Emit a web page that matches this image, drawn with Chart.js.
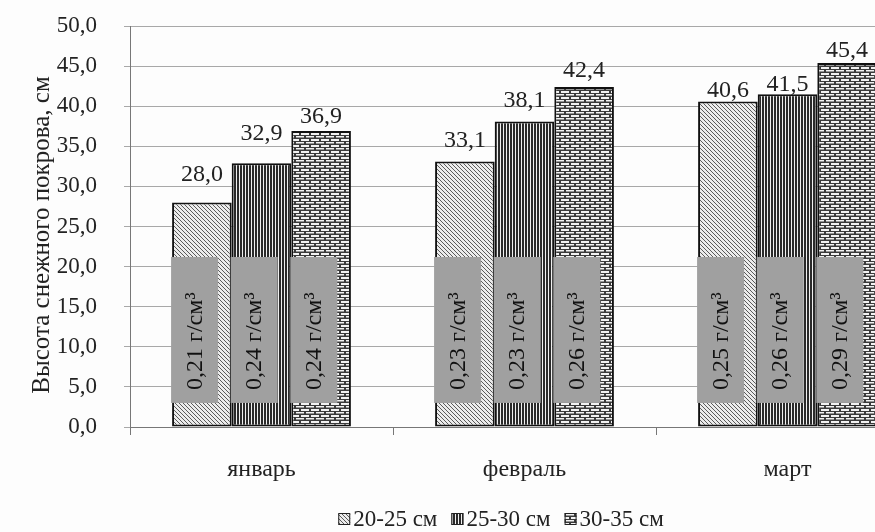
<!DOCTYPE html>
<html>
<head>
<meta charset="utf-8">
<script src="https://cdn.jsdelivr.net/npm/chart.js@4.4.1/dist/chart.umd.min.js"></script>
<style>
  html, body { margin: 0; padding: 0; background: #fdfdfd; overflow: hidden; }
  #wrap { width: 875px; height: 532px; overflow: hidden; }
  canvas { display: block; }
</style>
</head>
<body>
<div id="wrap"><canvas id="snowChart" width="1000" height="532"></canvas></div>
<script>
const months = ["январь", "февраль", "март"];
const seriesNames = ["20-25 см", "25-30 см", "30-35 см"];
const height20 = [28.0, 33.1, 40.6];
const height25 = [32.9, 38.1, 41.5];
const height30 = [36.9, 42.4, 45.4];
const density20 = [0.21, 0.23, 0.25];
const density25 = [0.24, 0.23, 0.26];
const density30 = [0.24, 0.26, 0.29];
const yTitle = "Высота снежного покрова, см";

const FONT = "'Liberation Serif', 'Times New Roman', serif";

function makeTile(w, h, draw) {
  const c = document.createElement("canvas");
  c.width = w;
  c.height = h;
  draw(c.getContext("2d"));
  return document.getElementById("snowChart").getContext("2d").createPattern(c, "repeat");
}

// diagonal hatch
const diagFill = makeTile(4, 4, g => {
  g.fillStyle = "#ececec";
  g.fillRect(0, 0, 4, 4);
  g.fillStyle = "#5a5a5a";
  for (let i = 0; i < 4; i++) g.fillRect(i, i, 1, 1);
});

// vertical stripes
const vertFill = makeTile(3, 3, g => {
  g.fillStyle = "#f0f0f0";
  g.fillRect(0, 0, 3, 3);
  g.fillStyle = "#2a2a2a";
  g.fillRect(0, 0, 2, 3);
});

// brick
const brickFill = makeTile(10, 6, g => {
  g.fillStyle = "#3a3a3a";
  g.fillRect(0, 0, 10, 6);
  g.fillStyle = "#f2f2f2";
  g.fillRect(1, 1, 8, 2);
  g.fillRect(6, 4, 4, 1.5);
  g.fillRect(0, 4, 4, 1.5);
});

const fills = [diagFill, vertFill, brickFill];
const densities = [density20, density25, density30];

function fmt(v, d) {
  return v.toFixed(d).replace(".", ",");
}

// the value labels in the original sit at uneven heights above the bars
const labelLift = [[21, 15, 4], [23, 14, 3], [8, 10, 6]];

const labelPlugin = {
  id: "barLabels",
  afterDatasetsDraw(chart) {
    const ctx = chart.ctx;
    const y = chart.scales.y;
    ctx.save();
    chart.data.datasets.forEach((ds, i) => {
      const meta = chart.getDatasetMeta(i);
      meta.data.forEach((bar, j) => {
        ctx.fillStyle = "#222";
        ctx.font = "24px " + FONT;
        ctx.textAlign = "center";
        ctx.textBaseline = "alphabetic";
        ctx.fillText(fmt(ds.data[j], 1), bar.x, bar.y - labelLift[i][j]);

        // density box
        const left = bar.x - bar.width / 2 - 1;
        const top = y.getPixelForValue(21.2);
        const bottom = y.getPixelForValue(3);
        const w = 47;
        ctx.fillStyle = "#a0a0a0";
        ctx.fillRect(left, top, w, bottom - top);
        ctx.save();
        ctx.translate(left + w / 2, bottom - 13);
        ctx.rotate(-Math.PI / 2);
        ctx.fillStyle = "#111";
        ctx.font = "24px " + FONT;
        ctx.textAlign = "left";
        ctx.textBaseline = "middle";
        ctx.fillText(fmt(densities[i][j], 2) + " г/см³", 0, 1);
        ctx.restore();
      });
    });
    ctx.restore();
  },
  afterDraw(chart) {
    const ctx = chart.ctx;
    ctx.save();
    // y axis title
    ctx.translate(42, 235);
    ctx.rotate(-Math.PI / 2);
    ctx.font = "25px " + FONT;
    ctx.fillStyle = "#222";
    ctx.textAlign = "center";
    ctx.textBaseline = "middle";
    ctx.fillText(yTitle, 0, 0);
    ctx.restore();

    // legend
    ctx.save();
    ctx.font = "23px " + FONT;
    ctx.textBaseline = "middle";
    const box = 12, gap = 3, space = 14;
    const items = chart.data.datasets.map(ds => ({
      text: ds.label,
      fill: ds.backgroundColor,
      w: box + gap + ctx.measureText(ds.label).width
    }));
    const total = items.reduce((s, it) => s + it.w, 0) + space * (items.length - 1);
    let x = 501 - total / 2;
    const cy = 519;
    items.forEach(it => {
      ctx.fillStyle = it.fill;
      ctx.fillRect(x, cy - box / 2, box, box);
      ctx.strokeStyle = "#222";
      ctx.lineWidth = 1;
      ctx.strokeRect(x + 0.5, cy - box / 2 + 0.5, box - 1, box - 1);
      ctx.fillStyle = "#222";
      ctx.fillText(it.text, x + box + gap, cy + 1);
      x += it.w + space;
    });
    ctx.restore();
  }
};

new Chart(document.getElementById("snowChart"), {
  type: "bar",
  data: {
    labels: months,
    datasets: [
      { label: seriesNames[0], data: height20 },
      { label: seriesNames[1], data: height25 },
      { label: seriesNames[2], data: height30 }
    ].map((d, i) => Object.assign(d, {
      backgroundColor: fills[i],
      borderColor: "#111",
      borderWidth: 2,
      borderSkipped: false,
      categoryPercentage: 0.68,
      barPercentage: 1.0
    }))
  },
  options: {
    responsive: false,
    animation: false,
    devicePixelRatio: 1,
    layout: { padding: { top: 26, right: 81, left: 0, bottom: 43 } },
    plugins: {
      tooltip: { enabled: false },
      legend: { display: false }
    },
    scales: {
      y: {
        min: 0,
        max: 50,
        ticks: {
          stepSize: 5,
          color: "#222",
          font: { family: FONT, size: 23 },
          padding: 27,
          callback: v => fmt(v, 1)
        },
        grid: { color: "#a8a8a8", tickLength: 6 },
        border: { color: "#777" },
        afterFit: s => {
          s.width = 130;
          s.paddingTop = 0;
          s.paddingBottom = 0;
        }
      },
      x: {
        ticks: {
          color: "#222",
          font: { family: FONT, size: 24 },
          padding: 20
        },
        grid: { drawOnChartArea: false, offset: true, tickLength: 8, color: "#777" },
        border: { color: "#777" },
        afterFit: s => { s.height = 62; }
      }
    }
  },
  plugins: [labelPlugin]
});
</script>
</body>
</html>
